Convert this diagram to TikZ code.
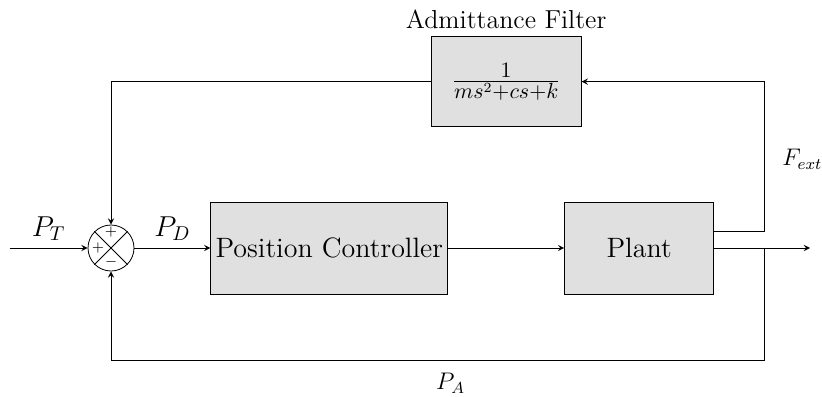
\documentclass[tikz,border=0pt]{standalone}
\usetikzlibrary{positioning}
\newcommand{\AdmLoopSize}{0.5}
\definecolor{blockgray}{gray}{0.88}
\tikzset{
	block/.style={draw, fill=blockgray, inner sep=2pt, font=\fontsize{14}{17}\selectfont},
	sumnode/.style={draw, circle, minimum size=\AdmLoopSize*46pt, inner sep=0pt},
	sign/.style={inner sep=0pt, font=\scriptsize},
}
\begin{document}
	\begin{tikzpicture}[>=stealth]
		\node[sumnode] (sum) {};
		\useasboundingbox ([shift={(-\AdmLoopSize*111pt,-\AdmLoopSize*148pt)}]sum.center) rectangle ([shift={(\AdmLoopSize*711pt,\AdmLoopSize*248pt)}]sum.center);
		\draw (sum.45) -- (sum.225);
		\draw (sum.135) -- (sum.315);
		\node[sign] (s1) at ([yshift=\AdmLoopSize*16pt]sum.center) {$+$};
		\node[sign] (s2) at ([xshift=-\AdmLoopSize*13pt]sum.center) {$+$};
		\node[sign] (s3) at ([yshift=-\AdmLoopSize*14pt]sum.center) {$-$};
		\coordinate[left=\AdmLoopSize*78pt of sum] (in);
		\node[block, minimum width=\AdmLoopSize*237pt, minimum height=\AdmLoopSize*92pt, right=\AdmLoopSize*76pt of sum] (pc) {Position Controller};
		\node[block, minimum width=\AdmLoopSize*149pt, minimum height=\AdmLoopSize*92pt, right=\AdmLoopSize*116pt of pc] (plant) {Plant};
		\coordinate[right=\AdmLoopSize*58pt of pc] (mid);
		\node[block, minimum width=\AdmLoopSize*150pt, minimum height=\AdmLoopSize*90pt, above=\AdmLoopSize*121pt of mid, font=\fontsize{15}{18}\selectfont] (filter) {$\frac{1}{ms^2+cs+k}$};
		\node[above=0pt of filter, font=\fontsize{13}{15}\selectfont] (filterlabel) {Admittance Filter};
		\coordinate[right=\AdmLoopSize*96pt of plant] (out);
		\coordinate[right=\AdmLoopSize*50pt of plant] (branch);
		\coordinate[below=\AdmLoopSize*112pt of branch] (fbk);
		\draw[->] (in) -- (sum.west) node[midway, above, font=\Large] {$P_T$};
		\draw[->] (sum.east) -- (pc.west) node[midway, above, font=\Large] {$P_D$};
		\draw[->] (pc.east) -- (plant.west);
		\draw[->] (plant.east) -- (out);
		\draw[->] ([yshift=\AdmLoopSize*17pt]plant.east) -- ++(\AdmLoopSize*50pt,0) |- (filter.east) node[pos=0.24, right=\AdmLoopSize*18pt, inner sep=0pt, font=\large] {$F_{ext}$};
		\draw[->] (filter.west) -| (sum.north);
		\draw[->] (branch) -- (fbk) -| (sum.south) node[pos=0.24, below, yshift=-\AdmLoopSize*6pt, font=\large] {$P_A$};
	\end{tikzpicture}
\end{document}
